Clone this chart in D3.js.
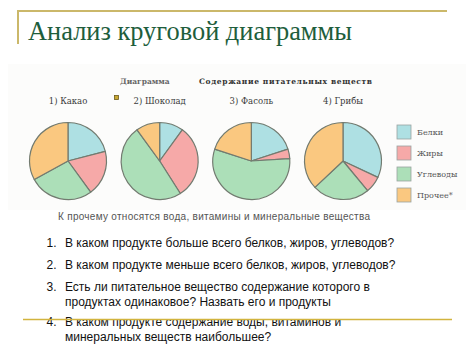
<!DOCTYPE html>
<html>
<head>
<meta charset="utf-8">
<script src="https://cdn.jsdelivr.net/npm/d3@7"></script>
<style>
  body { margin: 0; background: #fff; }
  svg { display: block; }
</style>
</head>
<body>
<svg width="474" height="355"></svg>
<script>
// data
let nutrients = ["Белки", "Жиры", "Углеводы", "Прочее*"];
let products = ["1) Какао", "2) Шоколад", "3) Фасоль", "4) Грибы"];
let kakao = [21, 19, 27, 33];
let shokolad = [10, 31, 49, 10];
let fasol = [20, 4, 56, 20];
let griby = [32, 7, 24, 37];
let questions = [
    ["В каком продукте больше всего белков, жиров, углеводов?"],
    ["В каком продукте меньше всего белков, жиров, углеводов?"],
    ["Есть ли питательное вещество содержание которого в", "продуктах одинаковое? Назвать его и продукты"],
    ["В каком продукте содержание воды, витаминов и", "минеральных веществ наибольшее?"]
];

function drawChart(){
    let svg = d3.select("svg");

    let series = [kakao, shokolad, fasol, griby];

    let color = d3.scaleOrdinal()
        .domain(nutrients)
        .range(["#aee0e3", "#f6a9a8", "#acdfb8", "#fac880"]);

    // slide frame
    svg.append("path")
        .attr("d", "M18,44V11H447")
        .attr("fill", "none")
        .attr("stroke", "#cbb86a")
        .attr("stroke-width", 2);

    svg.append("text")
        .attr("x", 28)
        .attr("y", 40)
        .attr("font-family", "Liberation Serif, serif")
        .attr("font-size", 27)
        .attr("fill", "#1e5e3c")
        .attr("textLength", 324)
        .attr("lengthAdjust", "spacingAndGlyphs")
        .text("Анализ круговой диаграммы");

    // textbook picture
    svg.append("rect")
        .attr("x", 8).attr("y", 64)
        .attr("width", 458).attr("height", 146)
        .attr("fill", "#fcfcfb");

    svg.append("text")
        .attr("x", 120).attr("y", 84)
        .attr("font-family", "DejaVu Serif, serif")
        .attr("font-size", 7.5)
        .attr("font-weight", "bold")
        .attr("fill", "#666")
        .text("Диаграмма");

    svg.append("text")
        .attr("x", 199).attr("y", 84)
        .attr("font-family", "DejaVu Serif, serif")
        .attr("font-size", 7.5)
        .attr("font-weight", "bold")
        .attr("fill", "#333")
        .attr("textLength", 173)
        .text("Содержание питательных веществ");

    svg.append("rect")
        .attr("x", 114.5).attr("y", 95.5)
        .attr("width", 4).attr("height", 4)
        .attr("fill", "#c9a832")
        .attr("stroke", "#6b5a1a")
        .attr("stroke-width", 0.8);

    let x = d3.scalePoint()
        .domain(products)
        .range([68, 343]);

    let radius = 38.5;
    let pie = d3.pie().sort(null).value(d => d.value);
    let arc = d3.arc().innerRadius(0).outerRadius(radius);

    let groups = svg.append("g")
        .selectAll("g")
        .data(products)
        .join("g")
        .attr("transform", d => "translate(" + x(d) + ",161)");

    groups.selectAll("path")
        .data((d, i) => pie(series[i].map((v, j) => ({name: nutrients[j], value: v}))))
        .join("path")
        .attr("d", arc)
        .attr("fill", d => color(d.data.name))
        .attr("stroke", "#727b70")
        .attr("stroke-width", 1.2)
        .attr("stroke-linejoin", "round");

    groups.append("text")
        .attr("y", -57)
        .attr("text-anchor", "middle")
        .attr("font-family", "DejaVu Serif, serif")
        .attr("font-size", 8.5)
        .attr("fill", "#3a3a3a")
        .text(d => d);

    // legend
    let legend = svg.append("g")
        .selectAll("g")
        .data(nutrients)
        .join("g")
        .attr("transform", (d, i) => "translate(397," + (125 + i * 21) + ")");

    legend.append("rect")
        .attr("width", 14)
        .attr("height", 14)
        .attr("fill", d => color(d))
        .attr("stroke", "#9aa3a0")
        .attr("stroke-width", 0.8);

    legend.append("text")
        .attr("x", 20)
        .attr("y", 10)
        .attr("font-family", "DejaVu Serif, serif")
        .attr("font-size", 8)
        .attr("fill", "#555")
        .text(d => d);

    svg.append("text")
        .attr("x", 58).attr("y", 220)
        .attr("font-family", "Liberation Sans, Arial, sans-serif")
        .attr("font-size", 10)
        .attr("fill", "#555")
        .attr("textLength", 312)
        .text("К прочему относятся вода, витамины и минеральные вещества");

    // questions
    let rowY = [247, 269, 291, 326];
    let q = svg.append("g")
        .attr("font-family", "Liberation Sans, Arial, sans-serif")
        .attr("font-size", 12)
        .attr("fill", "#111");

    questions.forEach(function(lines, i){
        q.append("text")
            .attr("x", 46.5).attr("y", rowY[i])
            .text((i + 1) + ".");
        lines.forEach(function(line, k){
            q.append("text")
                .attr("x", 65)
                .attr("y", rowY[i] + k * 15)
                .text(line);
        });
    });

    svg.append("line")
        .attr("x1", 23).attr("x2", 452)
        .attr("y1", 319.5).attr("y2", 319.5)
        .attr("stroke", "#d2b43e")
        .attr("stroke-width", 1.5);
}

drawChart();
</script>
</body>
</html>
